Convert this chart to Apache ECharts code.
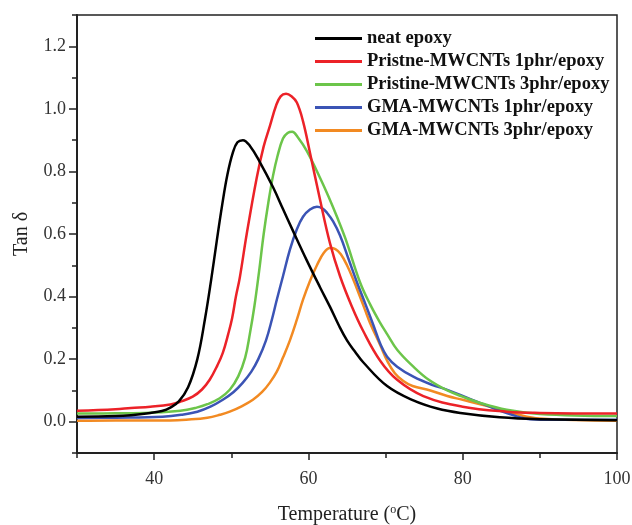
<!DOCTYPE html>
<html>
<head>
<meta charset="utf-8">
<script src="https://cdn.jsdelivr.net/npm/echarts@6/dist/echarts.min.js"></script>
<style>
  html, body { margin: 0; padding: 0; background: #fff; }
  #tan-delta { width: 632px; height: 525px; }
</style>
</head>
<body>
<div id="tan-delta"></div>
<script>
// values: [temperature, tan delta]
const neatEpoxy = [
  [30, 0.016], [35, 0.018], [37, 0.021], [39.5, 0.028], [41, 0.034], [42.1, 0.045],
  [43.2, 0.065], [44.4, 0.11], [45.6, 0.2], [46.6, 0.33], [47.4, 0.455], [48.1, 0.575],
  [48.8, 0.69], [49.5, 0.79], [50.2, 0.86], [50.8, 0.893], [51.5, 0.9], [52.4, 0.882],
  [53.7, 0.83], [55.4, 0.75], [56.7, 0.68], [58, 0.61], [59.8, 0.515], [61.5, 0.43],
  [62.8, 0.367], [64, 0.305], [65, 0.26], [66, 0.225], [67.1, 0.19], [70.2, 0.114],
  [73.6, 0.068], [76.7, 0.042], [79.7, 0.028], [84.8, 0.014], [90, 0.008], [100, 0.005]
]
const pristine1 = [
  [30, 0.035], [35, 0.04], [37, 0.044], [39.5, 0.048], [42.1, 0.055], [43.5, 0.065],
  [45, 0.08], [46.2, 0.103], [47.2, 0.134], [48.2, 0.18], [48.9, 0.22], [49.6, 0.28],
  [50.1, 0.33], [50.6, 0.4], [51.1, 0.46], [52, 0.6], [53.3, 0.78], [54.2, 0.88],
  [55, 0.945], [55.8, 1.01], [56.4, 1.04], [57.1, 1.048], [57.8, 1.04], [58.5, 1.02],
  [59.3, 0.96], [60.2, 0.86], [61.5, 0.71], [62.8, 0.57], [64.1, 0.465], [65.6, 0.37],
  [67.1, 0.29], [69.3, 0.195], [71.5, 0.134], [74.9, 0.082], [80, 0.048], [85.7, 0.032],
  [90, 0.028], [100, 0.026]
]
const pristine3 = [
  [30, 0.026], [35, 0.027], [39.5, 0.029], [43.4, 0.035], [45.5, 0.045], [46.9, 0.056],
  [48.5, 0.075], [49.8, 0.102], [50.9, 0.145], [51.8, 0.205], [52.4, 0.28], [53, 0.37],
  [53.6, 0.48], [54.2, 0.6], [54.8, 0.7], [55.4, 0.785], [56, 0.85], [56.7, 0.905],
  [57.3, 0.923], [57.9, 0.927], [58.6, 0.91], [59.8, 0.865], [61.5, 0.78], [62.6, 0.72],
  [63.7, 0.655], [64.8, 0.585], [66.7, 0.445], [68, 0.375], [69.3, 0.316], [70.2, 0.28],
  [71.5, 0.23], [73.6, 0.176], [75.6, 0.134], [78, 0.1], [80, 0.08], [82, 0.062],
  [85.7, 0.038], [90, 0.025], [100, 0.018]
]
const gma1 = [
  [30, 0.012], [35, 0.013], [41.1, 0.016], [43.5, 0.022], [45.6, 0.032], [47.3, 0.048],
  [48.9, 0.07], [50.3, 0.095], [51.5, 0.125], [52.6, 0.16], [53.5, 0.2], [54.5, 0.26],
  [55.3, 0.33], [55.9, 0.39], [56.7, 0.465], [57.6, 0.55], [58.5, 0.615], [59.3, 0.655],
  [60.2, 0.678], [61.1, 0.687], [61.8, 0.682], [62.4, 0.668], [63.2, 0.64], [64.1, 0.595],
  [65.2, 0.52], [66.3, 0.445], [67.4, 0.375], [68.4, 0.31], [69.3, 0.25], [70.2, 0.208],
  [71.5, 0.176], [73.6, 0.144], [76, 0.118], [78, 0.102], [81, 0.072], [83.5, 0.048],
  [85.7, 0.028], [88.7, 0.008], [92, 0.006], [100, 0.006]
]
const gma3 = [
  [30, 0.003], [35, 0.004], [42.1, 0.004], [44.5, 0.007], [46.9, 0.013], [48.5, 0.022],
  [49.8, 0.032], [51.4, 0.05], [52.8, 0.07], [54, 0.095], [55, 0.125], [55.9, 0.16],
  [56.7, 0.205], [57.6, 0.26], [58.5, 0.326], [59.3, 0.39], [60.2, 0.45], [61.1, 0.5],
  [62, 0.54], [62.8, 0.555], [63.5, 0.552], [64.2, 0.535], [65, 0.5], [65.8, 0.455],
  [66.6, 0.405], [67.3, 0.36], [68, 0.315], [69.3, 0.245], [70.2, 0.195], [71.2, 0.155],
  [72.3, 0.13], [73.5, 0.114], [75.8, 0.1], [78, 0.082], [80, 0.07], [83.2, 0.05],
  [87, 0.024], [90, 0.01], [100, 0.003]
]
const seriesNames = [
  'neat epoxy',
  'Pristne-MWCNTs 1phr/epoxy',
  'Pristine-MWCNTs 3phr/epoxy',
  'GMA-MWCNTs 1phr/epoxy',
  'GMA-MWCNTs 3phr/epoxy'
]
const xLabels = [40, 60, 80, 100]
const yLabels = [0, 0.2, 0.4, 0.6, 0.8, 1.0, 1.2]

const font = 'Liberation Serif'
const colorList = ['#000000', '#ec2228', '#6cc54a', '#3b54b5', '#f28a22']
const dataList = [neatEpoxy, pristine1, pristine3, gma1, gma3]

let chart = echarts.init(document.getElementById('tan-delta'))

let series = dataList.map((d, i) => ({
  name: seriesNames[i],
  type: 'line',
  data: d,
  smooth: 0.4,
  showSymbol: false,
  color: colorList[i],
  lineStyle: { width: 2.5, color: colorList[i] },
  z: 10 - i
}))

let option = {
  animation: false,
  grid: {
    left: 77, right: 15, top: 15, bottom: 72,
    outerBoundsMode: 'none',
    show: true,
    borderColor: '#222',
    borderWidth: 1.5
  },
  legend: {
    orient: 'vertical',
    left: 310,
    top: 24,
    icon: 'rect',
    itemWidth: 47,
    itemHeight: 3,
    itemGap: 4,
    data: seriesNames,
    textStyle: {
      fontFamily: font,
      fontWeight: 'bold',
      fontSize: 18.5,
      lineHeight: 18,
      color: '#111'
    }
  },
  xAxis: [
    {
      type: 'value',
      min: 30, max: 100, interval: 10,
      name: 'Temperature ({sup|o}C)',
      nameLocation: 'middle',
      nameGap: 51,
      nameTextStyle: {
        fontFamily: font, fontSize: 20, color: '#222',
        rich: { sup: { fontFamily: font, fontSize: 12, color: '#222', padding: [0, 0, 10, 0] } }
      },
      axisLine: { onZero: false, lineStyle: { color: '#222', width: 2 } },
      axisTick: { customValues: xLabels, length: 7, lineStyle: { color: '#222', width: 1.5 } },
      axisLabel: {
        customValues: xLabels,
        margin: 17,
        fontFamily: font, fontSize: 18, color: '#333'
      },
      splitLine: { show: false }
    },
    {
      // minor ticks every 10
      type: 'value',
      position: 'bottom',
      min: 30, max: 100, interval: 10,
      axisLine: { show: false, onZero: false },
      axisTick: { length: 5, lineStyle: { color: '#222', width: 1.5 } },
      axisLabel: { show: false },
      splitLine: { show: false }
    }
  ],
  yAxis: [
    {
      type: 'value',
      min: -0.1, max: 1.3, interval: 0.1,
      name: 'Tan δ',
      nameLocation: 'middle',
      nameGap: 45,
      nameTextStyle: { fontFamily: font, fontSize: 20, color: '#222' },
      axisLine: { show: true, onZero: false, lineStyle: { color: '#222', width: 2 } },
      axisTick: { customValues: yLabels, length: 8, lineStyle: { color: '#222', width: 1.5 } },
      axisLabel: {
        customValues: yLabels,
        margin: 11,
        fontFamily: font, fontSize: 18, color: '#333',
        formatter: (v) => v.toFixed(1)
      },
      splitLine: { show: false }
    },
    {
      // minor ticks every 0.1
      type: 'value',
      position: 'left',
      min: -0.1, max: 1.3, interval: 0.1,
      axisLine: { show: false, onZero: false },
      axisTick: { show: true, length: 5, lineStyle: { color: '#222', width: 1.5 } },
      axisLabel: { show: false },
      splitLine: { show: false }
    }
  ],
  series: series
}
chart.setOption(option)
</script>
</body>
</html>
